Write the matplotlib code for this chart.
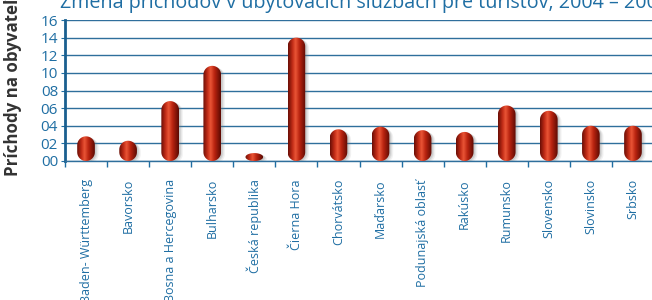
import numpy as np
import matplotlib
matplotlib.use("Agg")
import matplotlib.pyplot as plt
from matplotlib.path import Path
from matplotlib.patches import PathPatch
from matplotlib.colors import LinearSegmentedColormap

# data
krajiny = ["Baden- Württemberg", "Bavorsko", "Bosna a Hercegovina", "Bulharsko",
           "Česká republika", "Čierna Hora", "Chorvátsko", "Maďarsko",
           "Podunajská oblasť", "Rakúsko", "Rumunsko", "Slovensko",
           "Slovinsko", "Srbsko"]
hodnoty = [2.8, 2.3, 6.8, 10.8, 0.9, 14.0, 3.6, 3.9, 3.5, 3.3, 6.3, 5.7, 4.0, 4.0]
y_ticks = [0, 2, 4, 6, 8, 10, 12, 14, 16]
y_labels = ["00", "02", "04", "06", "08", "10", "12", "14", "16"]

modra = "#1f6ea3"
plt.rcParams['font.family'] = ['Open Sans', 'DejaVu Sans']

fig = plt.figure(figsize=(6.52, 3.0), dpi=100)
ax = fig.add_axes([65/652, 139/300, 589/652, 141/300])

n = len(krajiny)
x = np.arange(n)
ax.set_xlim(-0.5, n - 0.5)
ax.set_ylim(0, 16)

# grid
ax.set_yticks(y_ticks)
ax.set_yticklabels(y_labels, color=modra, fontsize=11)
ax.yaxis.grid(True, color="#2f6f9c", lw=1.0)
ax.set_axisbelow(True)
ax.tick_params(axis="y", length=3, color=modra, pad=2)

ax.set_xticks(x)
ax.set_xticklabels(krajiny, rotation=90, color=modra, fontsize=9, va="top")
ax.set_xticks(np.arange(n + 1) - 0.5, minor=True)
ax.tick_params(axis="x", which="major", length=0, pad=13)
ax.tick_params(axis="x", which="minor", length=4, color=modra, width=1)

for s in ["top", "right"]:
    ax.spines[s].set_visible(False)
ax.spines["left"].set_color("#1a5f8f")
ax.spines["left"].set_linewidth(2)
ax.spines["bottom"].set_color("#2f6f9c")
ax.spines["bottom"].set_linewidth(1)

# cylinders with rounded ends
fig.canvas.draw()
bb = ax.get_window_extent()
px_x = bb.width / n
px_y = bb.height / 16.0
w = 0.42
rx = w / 2
ry_full = (w / 2) * px_x / px_y

cmap = LinearSegmentedColormap.from_list("valec", [
    (0.0, "#6a0e06"), (0.25, "#c22c17"), (0.42, "#ea5536"),
    (0.65, "#b8230f"), (1.0, "#5c0a03")])
grad = np.linspace(0, 1, 64).reshape(1, -1)


def valec(cx, v, dx=0.0, dy=0.0):
    ry = min(ry_full, v / 2)
    t1 = np.linspace(np.pi, 2 * np.pi, 30)
    t2 = np.linspace(0, np.pi, 30)
    xs = np.concatenate([cx + rx * np.cos(t1), cx + rx * np.cos(t2)]) + dx
    ys = np.concatenate([ry + ry * np.sin(t1), v - ry + ry * np.sin(t2)]) + dy
    verts = np.column_stack([xs, ys])
    verts = np.vstack([verts, verts[:1]])
    codes = [Path.MOVETO] + [Path.LINETO] * (len(verts) - 2) + [Path.CLOSEPOLY]
    return Path(verts, codes)


for cx, v in zip(x, hodnoty):
    # soft shadow
    for k, a in [(0.09, 0.10), (0.06, 0.15), (0.035, 0.2)]:
        sh = PathPatch(valec(cx, v, dx=k, dy=-k * 2.5), fc="#7a7a7a", ec="none",
                       alpha=a, zorder=2)
        ax.add_patch(sh)
    p = PathPatch(valec(cx, v), fc="none", ec="none", zorder=3)
    ax.add_patch(p)
    im = ax.imshow(grad, cmap=cmap, aspect="auto", zorder=3,
                   extent=[cx - w / 2, cx + w / 2, 0, v], interpolation="bilinear")
    im.set_clip_path(p)

ax.set_xlim(-0.5, n - 0.5)
ax.set_ylim(0, 16)
for lbl in ax.get_xticklabels():
    lbl.set_clip_on(False)

# title and axis label, partly outside the image as in the original
fig.text(60/652, 1 - 8/300, "Zmena príchodov v ubytovacích službách pre turistov, 2004 – 2008",
         color=modra, fontsize=14.2, ha="left", va="baseline")
fig.text(13/652, 1 - 176/300, "Príchody na obyvateľa (%)", rotation=90,
         color="#333333", fontsize=12.2, fontweight="bold", ha="center", va="bottom")

fig.savefig("out.png", dpi=100)
